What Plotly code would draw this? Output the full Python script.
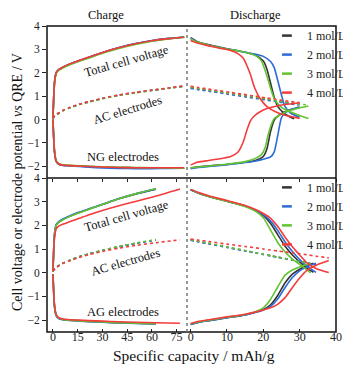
import plotly.graph_objects as go

CONC = ["1 mol/L", "2 mol/L", "3 mol/L", "4 mol/L"]
COLORS = ["#333333", "#2e6bd6", "#62c430", "#f43b3b"]

# ---------------- upper panel (NG electrodes) : charge ----------------
NG_CHG_CAP_1 = [0, 0.5, 1, 2, 3.5, 6, 10, 16, 22, 30, 40, 50, 60, 70, 79]
NG_CHG_CAP_2 = [0, 0.5, 1, 2, 3.5, 6, 10, 16, 22, 30, 40, 50, 60, 70, 79.5]
NG_CHG_CAP_3 = [0, 0.5, 1, 2, 3.5, 6, 10, 16, 22, 30, 40, 50, 60, 70, 80]
NG_CHG_CAP_4 = [0, 0.5, 1, 2, 3.5, 6, 10, 16, 22, 30, 40, 50, 60, 70, 79.5]
NG_CHG_TOT_1 = [0.05, 1.00, 1.60, 2.00, 2.13, 2.23, 2.36, 2.52, 2.66, 2.86, 3.07, 3.24, 3.37, 3.46, 3.52]
NG_CHG_TOT_2 = [0.05, 1.05, 1.65, 2.02, 2.14, 2.24, 2.37, 2.53, 2.67, 2.87, 3.08, 3.25, 3.38, 3.47, 3.53]
NG_CHG_TOT_3 = [0.05, 0.95, 1.55, 1.97, 2.10, 2.20, 2.33, 2.49, 2.63, 2.83, 3.04, 3.21, 3.35, 3.45, 3.52]
NG_CHG_TOT_4 = [0.05, 1.02, 1.62, 2.01, 2.14, 2.24, 2.37, 2.53, 2.67, 2.87, 3.07, 3.24, 3.37, 3.46, 3.52]
NG_CHG_AC_1 = [0.05, 0.10, 0.14, 0.20, 0.27, 0.38, 0.50, 0.65, 0.76, 0.90, 1.04, 1.15, 1.25, 1.34, 1.42]
NG_CHG_AC_2 = [0.05, 0.10, 0.14, 0.20, 0.27, 0.38, 0.50, 0.65, 0.76, 0.90, 1.04, 1.15, 1.25, 1.34, 1.43]
NG_CHG_AC_3 = [0.05, 0.09, 0.13, 0.19, 0.26, 0.37, 0.49, 0.64, 0.75, 0.89, 1.03, 1.14, 1.24, 1.33, 1.43]
NG_CHG_AC_4 = [0.06, 0.11, 0.15, 0.21, 0.28, 0.39, 0.51, 0.66, 0.77, 0.91, 1.05, 1.16, 1.26, 1.35, 1.44]
NG_CHG_NEG_1 = [0.0, -0.85, -1.40, -1.78, -1.90, -1.95, -1.97, -1.99, -2.01, -2.03, -2.05, -2.06, -2.07, -2.07, -2.07]
NG_CHG_NEG_2 = [0.0, -0.88, -1.42, -1.80, -1.91, -1.96, -1.98, -2.01, -2.04, -2.07, -2.09, -2.10, -2.10, -2.09, -2.08]
NG_CHG_NEG_3 = [0.0, -0.80, -1.36, -1.76, -1.88, -1.94, -1.96, -1.98, -2.00, -2.02, -2.04, -2.05, -2.06, -2.07, -2.08]
NG_CHG_NEG_4 = [0.0, -0.86, -1.41, -1.79, -1.90, -1.95, -1.97, -1.99, -2.01, -2.03, -2.05, -2.06, -2.06, -2.06, -2.06]

# ---------------- upper panel (NG electrodes) : discharge ----------------
NG_DIS_CAP_1 = [0, 2, 5, 10, 15, 18, 20, 21, 22, 23, 24, 25.5, 27, 28.5]
NG_DIS_TOT_1 = [3.50, 3.32, 3.20, 3.03, 2.88, 2.74, 2.50, 2.15, 1.55, 0.95, 0.55, 0.30, 0.14, 0.03]
NG_DIS_AC_1 = [1.36, 1.31, 1.24, 1.12, 1.00, 0.93, 0.88, 0.86, 0.83, 0.81, 0.78, 0.75, 0.71, 0.68]
NG_DIS_NEG_1 = [-2.07, -2.02, -1.98, -1.92, -1.83, -1.74, -1.58, -1.25, -0.50, -0.02, 0.15, 0.30, 0.40, 0.47]

NG_DIS_CAP_2 = [0, 2, 5, 10, 15, 18, 20, 22, 23, 24, 25, 26, 27.5, 30]
NG_DIS_TOT_2 = [3.48, 3.30, 3.18, 3.02, 2.88, 2.79, 2.70, 2.48, 2.22, 1.65, 1.05, 0.55, 0.28, 0.10]
NG_DIS_AC_2 = [1.33, 1.28, 1.21, 1.09, 0.97, 0.90, 0.85, 0.80, 0.78, 0.75, 0.73, 0.71, 0.67, 0.62]
NG_DIS_NEG_2 = [-2.10, -2.05, -2.01, -1.93, -1.84, -1.77, -1.70, -1.60, -1.38, -0.66, 0.08, 0.28, 0.42, 0.55]

NG_DIS_CAP_3 = [0, 2, 5, 10, 15, 18, 19.5, 20.5, 21.5, 23, 25, 27.5, 30, 32.4]
NG_DIS_TOT_3 = [3.45, 3.30, 3.18, 3.02, 2.88, 2.72, 2.50, 2.10, 1.60, 0.90, 0.52, 0.32, 0.17, 0.04]
NG_DIS_AC_3 = [1.38, 1.33, 1.26, 1.14, 1.02, 0.95, 0.91, 0.89, 0.86, 0.82, 0.77, 0.71, 0.66, 0.62]
NG_DIS_NEG_3 = [-2.07, -2.03, -1.99, -1.91, -1.80, -1.65, -1.50, -1.20, -0.55, 0.04, 0.24, 0.40, 0.50, 0.58]

NG_DIS_CAP_4 = [0, 2, 5, 8, 11, 13, 14.5, 15.5, 16.5, 17.5, 19, 21, 23.5, 26, 30]
NG_DIS_TOT_4 = [3.38, 3.26, 3.15, 3.05, 2.95, 2.82, 2.62, 2.30, 1.90, 1.40, 0.92, 0.55, 0.32, 0.18, 0.05]
NG_DIS_AC_4 = [1.42, 1.37, 1.30, 1.23, 1.16, 1.11, 1.08, 1.05, 1.03, 1.01, 0.97, 0.92, 0.86, 0.80, 0.72]
NG_DIS_NEG_4 = [-1.95, -1.82, -1.75, -1.68, -1.58, -1.40, -0.95, -0.45, -0.05, 0.15, 0.32, 0.47, 0.57, 0.64, 0.72]

# ---------------- lower panel (AG electrodes) : charge ----------------
AG_CHG_CAP_1 = [0, 0.5, 1, 2, 3.5, 6, 10, 16, 22, 30, 40, 50, 62.5]
AG_CHG_CAP_2 = [0, 0.5, 1, 2, 3.5, 6, 10, 16, 22, 30, 40, 50, 62.5]
AG_CHG_CAP_3 = [0, 0.5, 1, 2, 3.5, 6, 10, 16, 22, 30, 40, 50, 62.5]
AG_CHG_CAP_4 = [0, 0.5, 1, 2, 3.5, 6, 10, 16, 22, 30, 40, 50, 62.5, 77]
AG_CHG_TOT_1 = [0.05, 1.05, 1.65, 2.02, 2.14, 2.25, 2.38, 2.54, 2.69, 2.88, 3.12, 3.32, 3.53]
AG_CHG_TOT_2 = [0.05, 1.08, 1.68, 2.04, 2.16, 2.27, 2.40, 2.56, 2.70, 2.89, 3.13, 3.33, 3.54]
AG_CHG_TOT_3 = [0.05, 1.02, 1.62, 2.00, 2.13, 2.24, 2.37, 2.53, 2.68, 2.88, 3.12, 3.33, 3.55]
AG_CHG_TOT_4 = [0.05, 0.95, 1.50, 1.85, 1.97, 2.05, 2.15, 2.30, 2.45, 2.63, 2.83, 3.01, 3.24, 3.54]
AG_CHG_AC_1 = [0.08, 0.12, 0.16, 0.22, 0.30, 0.40, 0.52, 0.68, 0.80, 0.94, 1.10, 1.24, 1.39]
AG_CHG_AC_2 = [0.08, 0.12, 0.16, 0.22, 0.30, 0.40, 0.52, 0.68, 0.80, 0.94, 1.10, 1.24, 1.38]
AG_CHG_AC_3 = [0.08, 0.12, 0.16, 0.22, 0.30, 0.40, 0.52, 0.68, 0.80, 0.95, 1.11, 1.25, 1.40]
AG_CHG_AC_4 = [0.08, 0.12, 0.16, 0.22, 0.29, 0.39, 0.50, 0.65, 0.77, 0.90, 1.04, 1.15, 1.27, 1.39]
AG_CHG_NEG_1 = [-0.05, -0.90, -1.45, -1.80, -1.92, -1.97, -2.00, -2.03, -2.05, -2.08, -2.11, -2.13, -2.15]
AG_CHG_NEG_2 = [-0.05, -0.92, -1.47, -1.82, -1.93, -1.98, -2.01, -2.04, -2.06, -2.09, -2.12, -2.14, -2.16]
AG_CHG_NEG_3 = [-0.05, -0.88, -1.43, -1.79, -1.91, -1.97, -2.00, -2.03, -2.05, -2.08, -2.11, -2.13, -2.15]
AG_CHG_NEG_4 = [-0.05, -0.85, -1.40, -1.76, -1.90, -1.95, -1.98, -2.00, -2.02, -2.04, -2.07, -2.09, -2.11, -2.13]

# ---------------- lower panel (AG electrodes) : discharge ----------------
AG_DIS_CAP_1 = [0, 2, 5, 10, 15, 18, 20, 22, 24, 26, 28, 30, 32, 33.8]
AG_DIS_TOT_1 = [3.50, 3.37, 3.22, 3.02, 2.82, 2.62, 2.42, 2.08, 1.60, 1.12, 0.75, 0.46, 0.20, 0.02]
AG_DIS_AC_1 = [1.38, 1.32, 1.23, 1.08, 0.93, 0.84, 0.78, 0.72, 0.66, 0.60, 0.54, 0.48, 0.42, 0.36]
AG_DIS_NEG_1 = [-2.18, -2.10, -2.02, -1.90, -1.78, -1.66, -1.55, -1.35, -0.95, -0.42, -0.06, 0.15, 0.30, 0.40]

AG_DIS_CAP_2 = [0, 2, 5, 10, 15, 18, 20, 22, 24, 26, 28, 30, 32, 34.5]
AG_DIS_TOT_2 = [3.50, 3.37, 3.22, 3.02, 2.82, 2.63, 2.45, 2.18, 1.78, 1.30, 0.90, 0.56, 0.28, 0.02]
AG_DIS_AC_2 = [1.37, 1.31, 1.22, 1.07, 0.92, 0.83, 0.77, 0.71, 0.65, 0.59, 0.53, 0.47, 0.41, 0.34]
AG_DIS_NEG_2 = [-2.18, -2.10, -2.02, -1.90, -1.78, -1.67, -1.57, -1.42, -1.10, -0.62, -0.20, 0.08, 0.25, 0.40]

AG_DIS_CAP_3 = [0, 2, 5, 10, 15, 18, 20, 22, 24, 26, 28, 30.5, 33]
AG_DIS_TOT_3 = [3.52, 3.38, 3.22, 3.02, 2.80, 2.58, 2.32, 1.80, 1.27, 0.88, 0.58, 0.30, 0.00]
AG_DIS_AC_3 = [1.40, 1.34, 1.25, 1.09, 0.94, 0.84, 0.78, 0.72, 0.66, 0.60, 0.54, 0.46, 0.38]
AG_DIS_NEG_3 = [-2.16, -2.08, -2.00, -1.88, -1.76, -1.64, -1.48, -1.12, -0.59, -0.10, 0.12, 0.28, 0.38]

AG_DIS_CAP_4 = [0, 2, 5, 10, 15, 18, 20, 22, 24, 26, 28, 30, 32, 34.5, 38]
AG_DIS_TOT_4 = [3.52, 3.40, 3.25, 3.05, 2.84, 2.66, 2.50, 2.30, 1.95, 1.50, 1.10, 0.75, 0.42, 0.18, 0.01]
AG_DIS_AC_4 = [1.42, 1.38, 1.32, 1.21, 1.11, 1.05, 1.00, 0.96, 0.92, 0.88, 0.84, 0.80, 0.76, 0.70, 0.63]
AG_DIS_NEG_4 = [-2.14, -2.06, -1.98, -1.86, -1.75, -1.65, -1.57, -1.48, -1.32, -1.05, -0.62, -0.22, 0.10, 0.32, 0.52]

X_CHG_TICKS = [0, 15, 30, 45, 60, 75]
X_DIS_TICKS = [0, 10, 20, 30, 40]
Y_TICKS = [-2, -1, 0, 1, 2, 3, 4]

# ---------------------------------------------------------------------------
FONT = "Liberation Serif, Times New Roman, serif"

panels = {
    "top": {
        "chg": [(NG_CHG_CAP_1, NG_CHG_TOT_1, NG_CHG_AC_1, NG_CHG_NEG_1),
                (NG_CHG_CAP_2, NG_CHG_TOT_2, NG_CHG_AC_2, NG_CHG_NEG_2),
                (NG_CHG_CAP_3, NG_CHG_TOT_3, NG_CHG_AC_3, NG_CHG_NEG_3),
                (NG_CHG_CAP_4, NG_CHG_TOT_4, NG_CHG_AC_4, NG_CHG_NEG_4)],
        "dis": [(NG_DIS_CAP_1, NG_DIS_TOT_1, NG_DIS_AC_1, NG_DIS_NEG_1),
                (NG_DIS_CAP_2, NG_DIS_TOT_2, NG_DIS_AC_2, NG_DIS_NEG_2),
                (NG_DIS_CAP_3, NG_DIS_TOT_3, NG_DIS_AC_3, NG_DIS_NEG_3),
                (NG_DIS_CAP_4, NG_DIS_TOT_4, NG_DIS_AC_4, NG_DIS_NEG_4)],
        "axes": ("x", "x2", "y"),
        "legend": "legend",
    },
    "bottom": {
        "chg": [(AG_CHG_CAP_1, AG_CHG_TOT_1, AG_CHG_AC_1, AG_CHG_NEG_1),
                (AG_CHG_CAP_2, AG_CHG_TOT_2, AG_CHG_AC_2, AG_CHG_NEG_2),
                (AG_CHG_CAP_3, AG_CHG_TOT_3, AG_CHG_AC_3, AG_CHG_NEG_3),
                (AG_CHG_CAP_4, AG_CHG_TOT_4, AG_CHG_AC_4, AG_CHG_NEG_4)],
        "dis": [(AG_DIS_CAP_1, AG_DIS_TOT_1, AG_DIS_AC_1, AG_DIS_NEG_1),
                (AG_DIS_CAP_2, AG_DIS_TOT_2, AG_DIS_AC_2, AG_DIS_NEG_2),
                (AG_DIS_CAP_3, AG_DIS_TOT_3, AG_DIS_AC_3, AG_DIS_NEG_3),
                (AG_DIS_CAP_4, AG_DIS_TOT_4, AG_DIS_AC_4, AG_DIS_NEG_4)],
        "axes": ("x3", "x4", "y2"),
        "legend": "legend2",
    },
}

fig = go.Figure()
for key, p in panels.items():
    xc, xd, yy = p["axes"]
    for i in range(4):
        col = COLORS[i]
        for part, xa in (("chg", xc), ("dis", xd)):
            cap, tot, ac, neg = p[part][i]
            for vals, dash in ((tot, "solid"), (ac, "dot"), (neg, "solid")):
                fig.add_trace(go.Scatter(
                    x=cap, y=vals, xaxis=xa, yaxis=yy, mode="lines",
                    line=dict(color=col, width=1.6, dash=dash, shape="spline", smoothing=0.6),
                    showlegend=False, hoverinfo="skip"))
    # legend entries (short dash symbol)
    for i in range(4):
        fig.add_trace(go.Scatter(
            x=[None], y=[None], xaxis=xd, yaxis=yy, mode="markers",
            marker=dict(symbol="line-ew", size=7, line=dict(width=2.5, color=COLORS[i])),
            name=CONC[i], legend=p["legend"], showlegend=True))

XSPLIT = 140 / 289
YSPLIT = 154 / 306

axis_common = dict(showgrid=False, zeroline=False, showline=False, tickcolor="#222")
tick_font = dict(family=FONT, size=12, color="#222")

# the page body adds an 8 px offset, so the figure is 8 px smaller and margins shifted
fig.update_layout(
    width=343, height=363,
    margin=dict(l=39, r=15, t=18, b=39, autoexpand=False),
    paper_bgcolor="white", plot_bgcolor="rgba(0,0,0,0)",
    font=dict(family=FONT, color="#222"),
    xaxis=dict(domain=[0, XSPLIT], range=[-3.6, 81.3], anchor="y", tickvals=X_CHG_TICKS,
               showticklabels=False, ticks="outside", ticklen=3, **axis_common),
    xaxis2=dict(domain=[XSPLIT, 1], range=[-1, 40], anchor="y", tickvals=X_DIS_TICKS,
                showticklabels=False, ticks="outside", ticklen=3, **axis_common),
    xaxis3=dict(domain=[0, XSPLIT], range=[-3.6, 81.3], anchor="y2", tickvals=X_CHG_TICKS,
                ticks="inside", ticklen=3, ticklabelstandoff=-4, tickfont=tick_font,
                **axis_common),
    xaxis4=dict(domain=[XSPLIT, 1], range=[-1, 40], anchor="y2", tickvals=X_DIS_TICKS,
                ticks="inside", ticklen=3, ticklabelstandoff=-4, tickfont=tick_font,
                **axis_common),
    yaxis=dict(domain=[YSPLIT, 1], range=[-2.5, 4], anchor="x", tickvals=Y_TICKS,
               ticks="outside", ticklen=4, tickfont=dict(family=FONT, size=11.5, color="#222"),
               **axis_common),
    yaxis2=dict(domain=[0, YSPLIT], range=[-2.5, 4], anchor="x3", tickvals=Y_TICKS,
                ticks="outside", ticklen=4, tickfont=dict(family=FONT, size=11.5, color="#222"),
                **axis_common),
    legend=dict(x=0.761, y=1.016, xanchor="left", yanchor="top", bgcolor="rgba(0,0,0,0)",
                font=dict(family=FONT, size=12, color="#222"), itemwidth=30),
    legend2=dict(x=0.761, y=0.52, xanchor="left", yanchor="top", bgcolor="rgba(0,0,0,0)",
                 font=dict(family=FONT, size=12, color="#222"), itemwidth=30),
    shapes=[
        dict(type="rect", xref="paper", yref="paper", x0=0, x1=1, y0=0, y1=1,
             line=dict(color="#111", width=1.5)),
        dict(type="line", xref="paper", yref="paper", x0=0, x1=1, y0=YSPLIT, y1=YSPLIT,
             line=dict(color="#111", width=1.5)),
        dict(type="line", xref="paper", yref="paper", x0=XSPLIT, x1=XSPLIT, y0=0, y1=1,
             line=dict(color="#777", width=1.5, dash="dot")),
    ],
)

ann_font = dict(family=FONT, size=12.5, color="#111")
annotations = [
    dict(text="Charge", x=0.204, y=1.036, font=dict(family=FONT, size=12.5, color="#111")),
    dict(text="Discharge", x=0.72, y=1.036, font=dict(family=FONT, size=12.5, color="#111")),
    dict(text="Total cell voltage", x=0.276, y=0.886, textangle=-16, font=ann_font),
    dict(text="AC electrodes", x=0.278, y=0.7255, textangle=-17, font=ann_font),
    dict(text="NG electrodes", x=0.262, y=0.573, font=ann_font),
    dict(text="Total cell voltage", x=0.274, y=0.380, textangle=-16, font=ann_font),
    dict(text="AC electrodes", x=0.272, y=0.228, textangle=-16, font=ann_font),
    dict(text="AG electrodes", x=0.263, y=0.066, font=ann_font),
    dict(text="Specific capacity / mAh/g", x=0.509, y=-0.078,
         font=dict(family=FONT, size=15.5, color="#111")),
    dict(text="Cell voltage or electrode potential <i>vs</i> QRE / V", x=-0.104, y=0.49,
         textangle=-90, font=dict(family=FONT, size=14, color="#111")),
]
for a in annotations:
    a.update(xref="paper", yref="paper", showarrow=False, xanchor="center", yanchor="middle")
fig.update_layout(annotations=annotations)

fig.write_html("out.html")
